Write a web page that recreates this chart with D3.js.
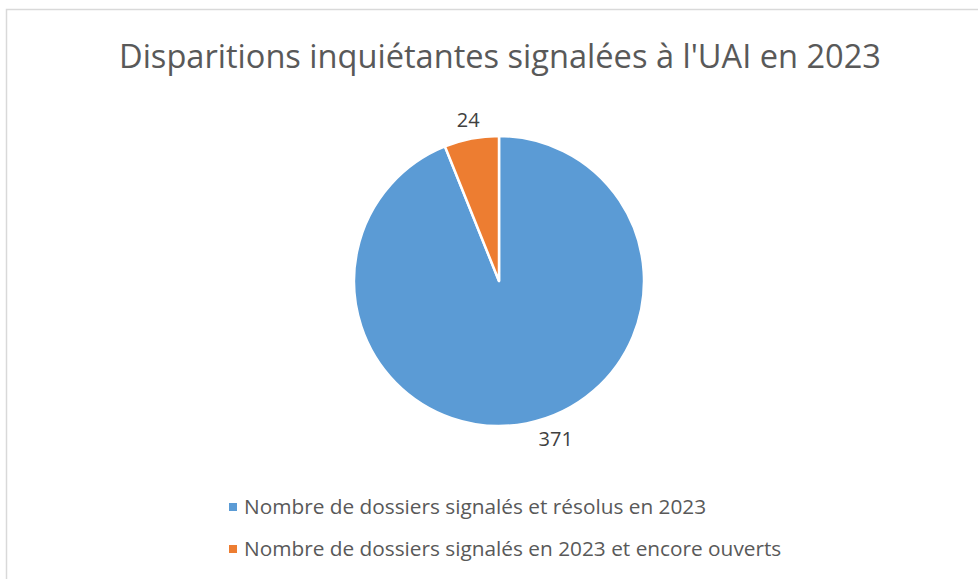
<!DOCTYPE html>
<html>
<head>
<meta charset="utf-8">
<script src="https://cdn.jsdelivr.net/npm/d3@7"></script>
<style>
  body { margin: 0; background: #fff; }
  svg { display: block; }
</style>
</head>
<body>
<script>
// Chart data
const categories = [
    "Nombre de dossiers signalés et résolus en 2023",
    "Nombre de dossiers signalés en 2023 et encore ouverts"
];
const values = [371, 24];
const colors = ["#5B9BD5", "#ED7D31"];
const title = "Disparitions inquiétantes signalées à l'UAI en 2023";

const width = 978, height = 579;
const cx = 499, cy = 281, radius = 145;

const svg = d3.select("body")
    .append("svg")
    .attr("width", width)
    .attr("height", height);

// Chart area border (cropped at right and bottom)
svg.append("rect")
    .attr("x", 6.5)
    .attr("y", 9.5)
    .attr("width", 1000)
    .attr("height", 600)
    .attr("fill", "#fff")
    .attr("stroke", "#d9d9d9")
    .attr("stroke-width", 1.5);

// Title
svg.append("text")
    .attr("x", 500)
    .attr("y", 68)
    .attr("text-anchor", "middle")
    .style("font-family", "'Open Sans', sans-serif")
    .style("font-size", "32.6px")
    .style("fill", "#595959")
    .text(title);

const data = categories.map((c, i) => ({ name: c, value: values[i], color: colors[i] }));

const pie = d3.pie().value(d => d.value).sort(null);
const arc = d3.arc().innerRadius(0).outerRadius(radius);
const arcs = pie(data);

const g = svg.append("g").attr("transform", `translate(${cx},${cy})`);

g.selectAll("path")
    .data(arcs)
    .enter().append("path")
    .attr("d", arc)
    .attr("fill", d => d.data.color)
    .attr("stroke", "#fff")
    .attr("stroke-width", 2.5)
    .attr("stroke-linejoin", "round");

// Data labels just outside the pie (Excel nudges the big slice label sideways)
const labelArc = d3.arc().innerRadius(radius + 17).outerRadius(radius + 17);
const labelNudge = [26, 0];
g.selectAll("text.label")
    .data(arcs)
    .enter().append("text")
    .attr("class", "label")
    .attr("transform", (d, i) => {
        const [x, y] = labelArc.centroid(d);
        return `translate(${x + labelNudge[i]},${y - 1.5})`;
    })
    .attr("text-anchor", "middle")
    .attr("dy", "0.35em")
    .style("font-family", "'Open Sans', sans-serif")
    .style("font-size", "20px")
    .style("fill", "#404040")
    .text(d => d.data.value);

// Legend
const legend = svg.append("g").attr("transform", "translate(229, 507)");
data.forEach((d, i) => {
    legend.append("rect")
        .attr("x", 0)
        .attr("y", i * 42 - 4)
        .attr("width", 8)
        .attr("height", 8)
        .attr("fill", d.color);
    legend.append("text")
        .attr("x", 15)
        .attr("y", i * 42)
        .attr("dy", "0.35em")
        .style("font-family", "'Open Sans', sans-serif")
        .style("font-size", "20.8px")
        .style("fill", "#595959")
        .text(d.name);
});
</script>
</body>
</html>
